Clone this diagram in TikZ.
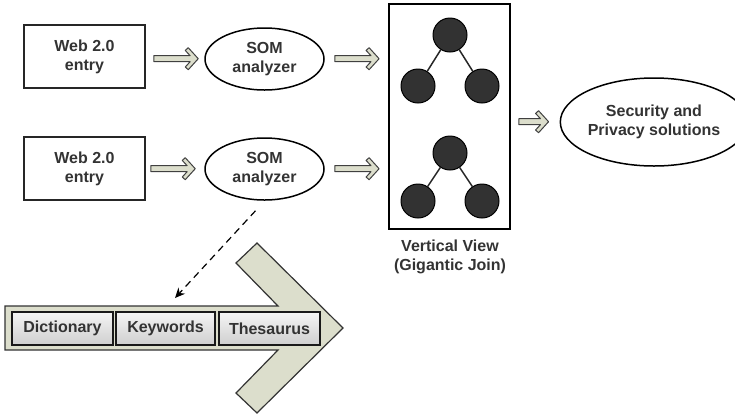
\documentclass[tikz,border=0pt]{standalone}
\usepackage{fontspec}
\setmainfont{Liberation Sans}
\usetikzlibrary{arrows.meta,shapes.geometric,calc}
\definecolor{txt}{RGB}{51,51,51}
\definecolor{khaki}{RGB}{220,222,204}
\definecolor{dotfill}{RGB}{50,50,50}
\tikzset{
  lbl/.style={font=\bfseries\fontsize{16}{19}\selectfont, text=txt, align=center},
  webbox/.style={draw=black!85, line width=1.5pt, minimum width=121pt, minimum height=63pt, inner sep=0pt, lbl},
  som/.style={ellipse, draw=black, line width=1.5pt, minimum width=119pt, minimum height=62pt, inner sep=0pt, lbl},
  hollow/.style={fill=khaki, draw=black!75, line width=1pt, line join=round,
    to path={let \p1=(\tikztostart), \p2=(\tikztotarget), \n1={\x2-\x1} in
      ++(0,3.3pt) -- ++(\n1-8.1pt,0) -- ++(-4.9pt,5.3pt) -- ++(3pt,2.7pt) -- ++(10pt,-11pt)
      -- ++(-10pt,-11pt) -- ++(-3pt,2.7pt) -- ++(4.9pt,5.3pt) -- ++(-\n1+8.1pt,0) -- cycle}},
  dot/.style={circle, draw=black, line width=1pt, fill=dotfill, minimum size=34pt, inner sep=0pt},
  edge/.style={draw=black!85, line width=1.5pt},
  tabbox/.style={draw=black!90, line width=1.6pt, top color=gray!8, bottom color=gray!38, minimum height=33pt, inner sep=0pt, lbl},
}
\begin{document}
\begin{tikzpicture}[x=1pt,y=-1pt]
\useasboundingbox (0,0) rectangle (735,416);
% big arrow
\draw[fill=khaki, draw=black!80, line width=1.2pt, line join=miter]
  (5,306) -- (278,306) -- (236,263) -- (257,243) -- (343,328) -- (257,413) -- (236,393) -- (278,350) -- (5,350) -- cycle;
\node[tabbox, minimum width=101pt] (dict) at (62.5,328.5) {Dictionary};
\node[tabbox, minimum width=99pt] (keyw) at (165.5,328.5) {Keywords};
\node[tabbox, minimum width=101pt] (thes) at (269.5,328.5) {Thesaurus};

% web entries
\node[webbox] (web1) at (84.5,56.5) {Web 2.0\\entry};
\node[webbox] (web2) at (84.5,168.5) {Web 2.0\\entry};
\node[som] (som1) at (264.5,59) {SOM\\analyzer};
\node[som] (som2) at (264.5,169) {SOM\\analyzer};

% vertical view box
\node[draw=black, line width=1.8pt, minimum width=121pt, minimum height=225pt, inner sep=0pt] (vv) at (449.5,116.5) {};
\node[lbl] (vvlbl) at (450,257) {Vertical View\\(Gigantic Join)};

% trees
\node[dot] (r1) at (450,35) {};
\node[dot] (l1) at (418,86) {};
\node[dot] (q1) at (482,86) {};
\node[dot] (r2) at (450,153) {};
\node[dot] (l2) at (418,201) {};
\node[dot] (q2) at (482,201) {};
\draw[edge] (r1) -- (l1) (r1) -- (q1) (r2) -- (l2) (r2) -- (q2);

% security
\node[ellipse, draw=black, line width=1.5pt, minimum width=164pt, minimum height=88pt, inner sep=0pt, lbl] (sec) at (654,122) {Security and\\Privacy solutions};

% hollow arrows
\draw[hollow] ([xshift=8pt]web1.east |- som1) to ([xshift=-6pt]som1.west);
\draw[hollow] ([xshift=5pt]web2.east |- som2) to ([xshift=-9pt]som2.west);
\draw[hollow] ([xshift=10pt]som1.east) to ([xshift=-9pt]vv.west |- som1);
\draw[hollow] ([xshift=10pt]som2.east) to ([xshift=-9pt]vv.west |- som2);
\draw[hollow] ([xshift=8pt]vv.east |- sec) to ([xshift=-11pt]sec.west);

% dashed
\coordinate (dend) at (175,298);
\draw[dashed, line width=1.2pt, dash pattern=on 7pt off 5pt, -{Stealth[length=10pt,width=9pt]}] ([shift={(-9pt,-10pt)}]som2.south) -- (dend);
\end{tikzpicture}
\end{document}
